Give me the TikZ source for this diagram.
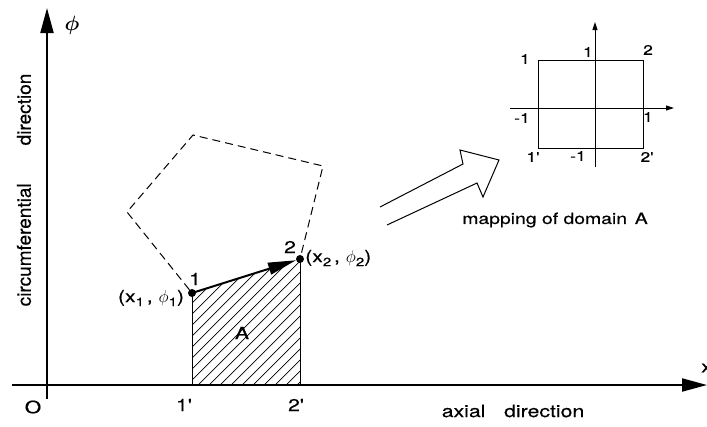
\documentclass[tikz,border=0pt]{standalone}
\usepackage{fontspec}
\setmainfont[FakeBold=0.4]{TeX Gyre Heros}
\newfontfamily\wide[FakeStretch=1.25,FakeBold=0.4]{TeX Gyre Heros}
\usepackage{bm}
\usetikzlibrary{arrows.meta}
\newcommand\sbs[1]{\raisebox{-0.45ex}{\fontsize{12}{12}\selectfont #1}}
\begin{document}
\begin{tikzpicture}[x=1pt,y=-1pt,
  lbl/.style={inner sep=0pt,font=\wide\fontsize{17}{19}\selectfont},
  vlbl/.style={inner sep=0pt,font=\fontsize{19}{21}\selectfont},
  small/.style={inner sep=0pt,font=\wide\fontsize{14}{16}\selectfont},
  axis/.style={line width=2pt,-{Triangle[length=25pt,width=13pt]}},
  iaxis/.style={line width=1pt,-{Triangle[length=8pt,width=5pt]}},
  dot/.style={circle,fill=black,inner sep=0pt,minimum size=8pt},
  dashline/.style={line width=1pt,dash pattern=on 8pt off 5pt},
  hatch/.style={line width=0.7pt}]
\useasboundingbox (0,0) rectangle (707,426);
% axes
\coordinate (xs) at (12,385);
\coordinate (xe) at (707,385);
\coordinate (ys) at (47,399);
\coordinate (ye) at (47,8);
\draw[axis] (xs) -- (xe);
\draw[axis] (ys) -- (ye);
\node[lbl,font=\fontsize{22}{24}\selectfont] (phi) at (72,25) {$\bm{\phi}$};
\node[lbl,anchor=west] (xl) at (701,368) {x};
\node[lbl] (o) at (33,407) {O};
\node[vlbl,rotate=90] (circ) at (24,190) {circumferential\hspace{2em}direction};
\node[lbl] (axial) at (513,411) {axial\hspace{1.1em}direction};
% points
\coordinate (b1) at (192,385);
\coordinate (b2) at (300,385);
\node[dot] (p1) at (192,293) {};
\node[dot] (p2) at (300,259) {};
% hatch
\begin{scope}
\clip (192,293) -- (300,259) -- (b2) -- (b1) -- cycle;
\foreach \c in {-11,0,...,300} {
  \draw[hatch] (\c,385) -- ++(200,-200);
}
\end{scope}
\draw[line width=0.9pt] (p1.center) -- (b1);
\draw[line width=0.9pt] (p2.center) -- (b2);
\draw[line width=2pt,-{Triangle[length=28pt,width=12pt]}] (p1.center) -- (p2);
% dashed polygon
\coordinate (d1) at (127,212);
\coordinate (d2) at (193,135);
\coordinate (d3) at (323,166);
\draw[dashline] (p1) -- (d1) -- (d2) -- (d3) -- (p2);
% labels
\node[lbl] (l1) at (195,279) {1};
\node[lbl] (l2) at (290,247) {2};
\node[lbl] (l1p) at (184,405) {1'};
\node[lbl] (l2p) at (296,405) {2'};
\node[lbl] (x1) at (151,298) {(x\sbs{1}\,, $\phi$\sbs{1})};
\node[lbl,anchor=west] (x2) at (305,258) {(x\sbs{2}\,, $\phi$\sbs{2})};
\node[lbl] (A) at (242,333) {A};
% hollow arrow
\coordinate (h1) at (380,207);
\coordinate (h2) at (463,164);
\coordinate (h3) at (460,150);
\coordinate (h4) at (499,160);
\coordinate (h5) at (483,197);
\coordinate (h6) at (477,183);
\coordinate (h7) at (387,225);
\draw[line width=1pt,line join=miter] (h1) -- (h2) -- (h3) -- (h4) -- (h5) -- (h6) -- (h7);
\node[lbl,font=\wide\fontsize{15.5}{18}\selectfont] (map) at (555,220) {mapping of domain\hspace{0.5em}A};
% inset
\coordinate (ihs) at (510,108);
\coordinate (ihe) at (674,108);
\coordinate (ivs) at (595,167);
\coordinate (ive) at (595,22);
\draw[iaxis] (ihs) -- (ihe);
\draw[iaxis] (ivs) -- (ive);
\node[draw,line width=1pt,minimum width=105pt,minimum height=88pt,inner sep=0pt] (box) at (590.5,104) {};
\node[small] (i1) at (525,59) {1};
\node[small] (i1t) at (588,52) {1};
\node[small] (i2) at (648,50) {2};
\node[small] (im1) at (522,118) {-1};
\node[small] (i1r) at (648,117) {1};
\node[small] (i1p) at (533,157) {1'};
\node[small] (im1b) at (578,156) {-1};
\node[small] (i2p) at (647,157) {2'};
\end{tikzpicture}
\end{document}
